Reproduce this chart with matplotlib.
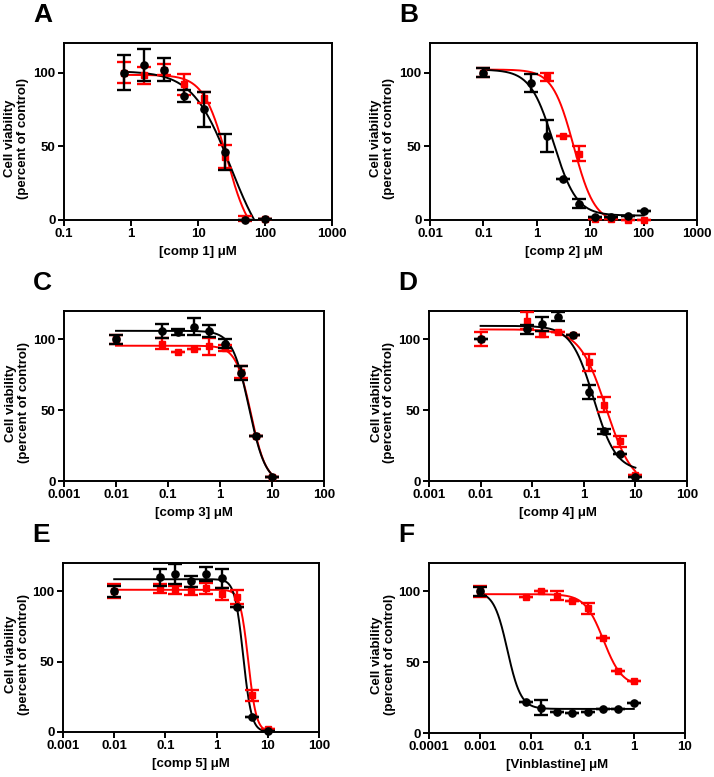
import numpy as np
import matplotlib
matplotlib.use('Agg')
import matplotlib.pyplot as plt

plt.rcParams['font.family'] = ['Liberation Sans', 'DejaVu Sans']
plt.rcParams['font.weight'] = 'bold'

# concentrations (uM)
x_a = [0.78, 1.56, 3.125, 6.25, 12.5, 25, 50, 100]
x_b = [0.1, 0.78, 1.56, 3.125, 6.25, 12.5, 25, 50, 100]
x_b_red = [0.1, 1.56, 3.125, 6.25, 12.5, 25, 50, 100]
x_cde = [0.01, 0.078, 0.156, 0.3125, 0.625, 1.25, 2.5, 5, 10]
x_f = [0.001, 0.0078, 0.0156, 0.03125, 0.0625, 0.125, 0.25, 0.5, 1]

# panel A
a_blk = [100, 105, 102, 84, 75, 46, 0, 1]
a_blk_err = [12, 11, 8, 4, 12, 12, 0, 0]
a_red = [100, 98, 102, 92, 83, 43, 1, 1]
a_red_err = [7, 6, 4, 7, 4, 8, 2, 0]

# panel B
b_blk = [100, 93, 57, 28, 11, 2, 2, 3, 6]
b_blk_err = [3, 6, 11, 0, 3, 0, 0, 0, 0]
b_red = [100, 97, 57, 45, 1, 1, 0, 0]
b_red_err = [3, 3, 0, 5, 0, 0, 0, 0]

# panel C
c_blk = [100, 106, 105, 109, 106, 97, 76, 32, 3]
c_blk_err = [3, 5, 2, 6, 4, 3, 5, 0, 0]
c_red = [100, 97, 91, 93, 95, 94, 77, 32, 3]
c_red_err = [3, 4, 0, 0, 6, 2, 4, 0, 0]

# panel D
d_blk = [100, 107, 111, 116, 103, 63, 35, 19, 3]
d_blk_err = [0, 3, 5, 3, 0, 5, 2, 0, 0]
d_red = [100, 113, 104, 105, 103, 84, 54, 28, 4]
d_red_err = [5, 6, 2, 0, 0, 6, 5, 4, 0]

# panel E
e_blk = [100, 110, 112, 107, 112, 109, 89, 11, 1]
e_blk_err = [4, 6, 7, 4, 5, 7, 0, 0, 0]
e_red = [100, 102, 101, 100, 102, 98, 96, 26, 2]
e_red_err = [5, 3, 3, 3, 4, 4, 5, 4, 0]

# panel F
f_blk = [100, 22, 18, 15, 14, 15, 17, 17, 21]
f_blk_err = [3, 0, 5, 0, 0, 0, 0, 0, 0]
f_red = [100, 96, 100, 97, 93, 88, 67, 44, 37]
f_red_err = [4, 0, 0, 3, 0, 4, 0, 0, 0]

# fitted 4PL curves: top, bottom, IC50, hill
a_blk_fit = [101, -30, 31, 1.51]
a_red_fit = [98.4, -15, 27, 2.47]
b_blk_fit = [102, 3, 2.05, 2.0]
b_red_fit = [102, -2, 4.9, 2.2]
c_blk_fit = [106, -2, 3.6, 2.7]
c_red_fit = [95.5, -1, 3.95, 3.0]
d_blk_fit = [109.5, 7, 1.55, 2.0]
d_red_fit = [107, -4, 2.7, 1.7]
e_blk_fit = [108.5, 0, 3.3, 5.3]
e_red_fit = [101, 0, 4.15, 5.5]
f_blk_fit = [100, 17, 0.0034, 3.3]
f_red_fit = [98, 33, 0.256, 2.38]

panels = [
    ('A', '[comp 1] \u03bcM', (0.1, 1000), x_a, x_a, a_blk, a_blk_err, a_red, a_red_err, a_blk_fit, a_red_fit,
     (64, 332, 43, 220)),
    ('B', '[comp 2] \u03bcM', (0.01, 1000), x_b, x_b_red, b_blk, b_blk_err, b_red, b_red_err, b_blk_fit, b_red_fit,
     (430, 697, 43, 220)),
    ('C', '[comp 3] \u03bcM', (0.001, 100), x_cde, x_cde, c_blk, c_blk_err, c_red, c_red_err, c_blk_fit, c_red_fit,
     (64, 324, 311, 481)),
    ('D', '[comp 4] \u03bcM', (0.001, 100), x_cde, x_cde, d_blk, d_blk_err, d_red, d_red_err, d_blk_fit, d_red_fit,
     (429, 687, 311, 481)),
    ('E', '[comp 5] \u03bcM', (0.001, 100), x_cde, x_cde, e_blk, e_blk_err, e_red, e_red_err, e_blk_fit, e_red_fit,
     (63, 319, 563, 732)),
    ('F', '[Vinblastine] \u03bcM', (0.0001, 10), x_f, x_f, f_blk, f_blk_err, f_red, f_red_err, f_blk_fit, f_red_fit,
     (429, 685, 563, 733)),
]

W, H = 714, 777
fig = plt.figure(figsize=(W / 100, H / 100), dpi=100)


def four_pl(x, p):
    top, bottom, ic50, hill = p
    return bottom + (top - bottom) / (1 + (x / ic50) ** hill)


for letter, xlab, xlim, xb, xr, yb, eb, yr, er, pb, pr, box in panels:
    l, r, t, b = box
    ax = fig.add_axes([l / W, 1 - b / H, (r - l) / W, (b - t) / H])
    ax.set_xscale('log')
    ax.set_xlim(*xlim)
    ax.set_ylim(0, 120)

    # fit curves
    xx = np.logspace(np.log10(min(xb)), np.log10(max(xb)), 300)
    ax.plot(xx, four_pl(xx, pr), color='#ff0000', lw=1.4, zorder=2)
    ax.plot(xx, four_pl(xx, pb), color='black', lw=1.4, zorder=3)

    ax.errorbar(xr, yr, yerr=er, fmt='s', color='#ff0000', ms=5, elinewidth=1.7,
                capsize=5, capthick=1.7, zorder=4, clip_on=False)
    ax.errorbar(xb, yb, yerr=eb, fmt='o', color='black', ms=5.2, elinewidth=1.7,
                capsize=5, capthick=1.7, zorder=5, clip_on=False)

    ax.set_yticks([0, 50, 100])
    ax.set_xticks([10.0 ** k for k in range(int(round(np.log10(xlim[0]))), int(round(np.log10(xlim[1]))) + 1)])
    ax.set_xticklabels(['%g' % v for v in ax.get_xticks()])
    ax.minorticks_off()
    ax.tick_params(direction='out', length=4, width=1.4, labelsize=9.5, pad=2)
    for s in ax.spines.values():
        s.set_linewidth(1.4)

    ax.set_xlabel(xlab, fontsize=9.5, fontweight='bold', labelpad=4)
    ax.set_ylabel('Cell viability\n(percent of control)', fontsize=9.5, fontweight='bold',
                  linespacing=1.1)
    ax.yaxis.set_label_coords(-0.13, 0.46)

    fig.text((l - 31) / W, 1 - (t - 28) / H, letter, fontsize=19, fontweight='bold',
             ha='left', va='center')

fig.savefig('out.png', dpi=100)
